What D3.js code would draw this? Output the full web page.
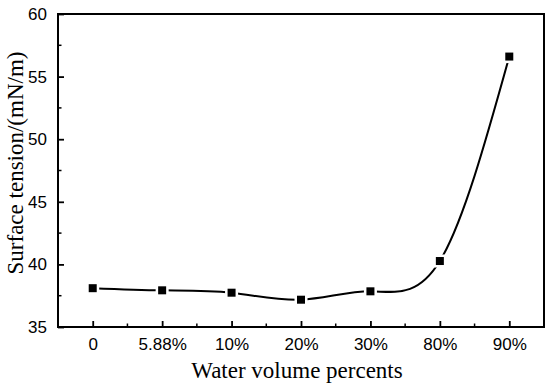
<!DOCTYPE html>
<html>
<head>
  <script src="https://d3js.org/d3.v7.min.js"></script>
  <style>
    body { margin: 0; background: white; }
    svg { display: block; }
  </style>
</head>
<body>
<svg id="chart" width="550" height="384"></svg>
<script>
  var categories = ["0", "5.88%", "10%", "20%", "30%", "80%", "90%"];
  var tension = [38.1, 37.93, 37.74, 37.18, 37.85, 40.27, 56.6];
  var yTicks = [35, 40, 45, 50, 55, 60];

  var plotL = 58, plotR = 544, plotT = 14, plotB = 327;

  var svg = d3.select("#chart");

  var x = d3.scalePoint().domain(categories).range([plotL, plotR]).padding(0.5);
  var y = d3.scaleLinear().domain([35, 60]).range([plotB, plotT]);
  var step = x.step();

  // minor ticks (inward)
  var yMinor = d3.range(37.5, 60, 5);
  svg.append("g").selectAll("line").data(yMinor).join("line")
    .attr("x1", plotL).attr("x2", plotL + 3.5)
    .attr("y1", d => y(d)).attr("y2", d => y(d))
    .attr("stroke", "black").attr("stroke-width", 1.5);
  svg.append("g").selectAll("line").data(categories.slice(1)).join("line")
    .attr("x1", d => x(d) - step / 2).attr("x2", d => x(d) - step / 2)
    .attr("y1", plotB).attr("y2", plotB - 3.5)
    .attr("stroke", "black").attr("stroke-width", 1.5);

  // major ticks via axes, drawn inward
  var yAxis = d3.axisLeft(y).tickValues(yTicks).tickSize(-6).tickPadding(11);
  var gy = svg.append("g").attr("transform", `translate(${plotL},0)`).call(yAxis);
  var xAxis = d3.axisBottom(x).tickSize(-6).tickPadding(11);
  var gx = svg.append("g").attr("transform", `translate(0,${plotB})`).call(xAxis);

  [gx, gy].forEach(g => {
    g.select(".domain").remove();
    g.selectAll(".tick line").attr("stroke", "black").attr("stroke-width", 1.8);
    g.selectAll(".tick text")
      .attr("font-family", "Liberation Sans, Arial, sans-serif")
      .attr("font-size", 17).attr("fill", "black");
  });

  // frame
  svg.append("rect")
    .attr("x", plotL).attr("y", plotT)
    .attr("width", plotR - plotL).attr("height", plotB - plotT)
    .attr("fill", "none").attr("stroke", "black").attr("stroke-width", 2);

  // curve
  var pts = categories.map((c, i) => [x(c), y(tension[i])]);
  svg.append("path")
    .attr("d", d3.line().curve(d3.curveNatural)(pts))
    .attr("fill", "none").attr("stroke", "black").attr("stroke-width", 2);

  // markers with white gap
  svg.append("g").selectAll("rect").data(pts).join("rect")
    .attr("x", d => d[0] - 4).attr("y", d => d[1] - 4)
    .attr("width", 8).attr("height", 8)
    .attr("fill", "black").attr("stroke", "white").attr("stroke-width", 5)
    .attr("paint-order", "stroke");

  // axis titles
  svg.append("text")
    .attr("x", 297).attr("y", 378)
    .attr("text-anchor", "middle")
    .attr("font-family", "Liberation Serif, Times New Roman, serif")
    .attr("font-size", 23)
    .text("Water volume percents");

  svg.append("text")
    .attr("transform", `translate(23,163) rotate(-90)`)
    .attr("text-anchor", "middle")
    .attr("font-family", "Liberation Serif, Times New Roman, serif")
    .attr("font-size", 23)
    .text("Surface tension/(mN/m)");
</script>
</body>
</html>
